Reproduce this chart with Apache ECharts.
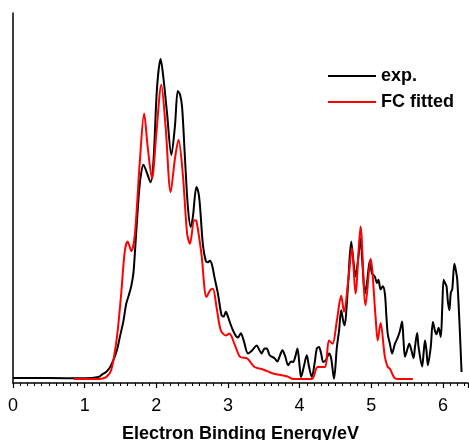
<!DOCTYPE html>
<html>
<head>
<meta charset="utf-8">
<script src="https://cdn.jsdelivr.net/npm/echarts@6/dist/echarts.min.js"></script>
<style>
  html, body { margin: 0; padding: 0; background: #fff; }
  #main { width: 469px; height: 440px; }
</style>
</head>
<body>
<div id="main"></div>
<script>
// experimental spectrum (eV, intensity with main peak = 100)
var expX = [0, 0.5, 1.0, 1.19, 1.25, 1.30, 1.35, 1.40, 1.45, 1.49, 1.54, 1.58, 1.62, 1.65, 1.68, 1.70, 1.75, 1.78, 1.82, 1.86, 1.92, 1.96, 2.01, 2.06, 2.10, 2.15, 2.21, 2.26, 2.30, 2.33, 2.36, 2.40, 2.44, 2.48, 2.51, 2.56, 2.59, 2.61, 2.65, 2.69, 2.72, 2.75, 2.78, 2.81, 2.86, 2.91, 2.94, 2.97, 3.00, 3.03, 3.07, 3.11, 3.14, 3.18, 3.22, 3.28, 3.34, 3.40, 3.44, 3.47, 3.51, 3.54, 3.58, 3.61, 3.65, 3.69, 3.72, 3.76, 3.80, 3.84, 3.88, 3.91, 3.94, 3.97, 4.00, 4.02, 4.06, 4.10, 4.13, 4.17, 4.21, 4.24, 4.27, 4.30, 4.33, 4.37, 4.41, 4.44, 4.48, 4.52, 4.55, 4.58, 4.61, 4.63, 4.66, 4.68, 4.72, 4.75, 4.78, 4.82, 4.85, 4.88, 4.91, 4.94, 4.98, 5.01, 5.05, 5.08, 5.10, 5.13, 5.16, 5.19, 5.21, 5.23, 5.26, 5.29, 5.33, 5.37, 5.40, 5.43, 5.45, 5.47, 5.50, 5.53, 5.56, 5.59, 5.61, 5.64, 5.66, 5.71, 5.73, 5.75, 5.77, 5.79, 5.83, 5.86, 5.89, 5.91, 5.94, 5.97, 5.99, 6.01, 6.03, 6.05, 6.07, 6.09, 6.11, 6.13, 6.16, 6.18, 6.20, 6.23, 6.26];
var expY = [0.3, 0.3, 0.2, 0.6, 1.5, 2.2, 3.5, 5.8, 9, 13, 18, 23.5, 26.5, 29, 33, 39, 56, 63, 67, 65, 61.5, 68, 91, 100, 94, 83, 70, 79, 90, 89, 85, 69, 54, 47.5, 50.6, 60, 58, 54, 42, 37, 36.5, 37, 35.5, 32, 26.7, 20, 19.5, 21, 19.5, 17.5, 15.2, 13.5, 13, 14.3, 12, 8, 9, 10.5, 9, 8, 9.5, 9.5, 7.5, 7, 6.5, 5.5, 7, 9, 7, 4.3, 5.5, 5.3, 7, 9.5, 4, 0.6, 4, 7.4, 4, 0.6, 5, 9.5, 10, 8, 5.3, 6, 8, 6.5, 0.1, 10, 15, 21.5, 18, 16.8, 24, 31, 43, 37, 32, 38, 44, 35, 26.7, 30, 37, 33, 32, 30, 31, 28, 29, 26.7, 20, 14, 11, 8, 11, 13, 15, 18, 12, 7, 9, 11, 9, 6.5, 10, 14.4, 10, 3.9, 8, 12, 9, 4.3, 10, 17.8, 15, 14, 16, 13.2, 22, 31, 30, 29, 24, 21.5, 27, 28, 36, 34, 31, 18, 2.2];

// Franck-Condon fitted spectrum
var fcX = [0.85, 1.20, 1.30, 1.37, 1.45, 1.51, 1.56, 1.60, 1.65, 1.70, 1.77, 1.83, 1.88, 1.94, 2.00, 2.07, 2.13, 2.20, 2.26, 2.31, 2.37, 2.43, 2.47, 2.53, 2.56, 2.63, 2.70, 2.75, 2.79, 2.84, 2.90, 2.97, 3.02, 3.09, 3.17, 3.27, 3.37, 3.50, 3.63, 3.83, 3.91, 4.17, 4.25, 4.35, 4.41, 4.46, 4.52, 4.58, 4.62, 4.68, 4.73, 4.78, 4.85, 4.92, 4.99, 5.06, 5.09, 5.13, 5.19, 5.23, 5.26, 5.32, 5.37, 5.58];
var fcY = [0, 0, 0.6, 2.7, 13, 26.7, 40, 43, 40, 45, 68, 83, 72.5, 62.6, 76.7, 92, 78.8, 58.4, 68.9, 74.8, 64, 45.4, 42.3, 49.6, 49.4, 39, 25.6, 27.7, 28.2, 22.5, 15.2, 13.6, 14.2, 11, 6.9, 6.4, 3.75, 2.9, 1.7, 0.8, 0, 0, 3.75, 3.75, 12, 11, 18.3, 26, 21, 31, 41, 26.7, 47.7, 23, 37.6, 19.4, 12, 17.5, 6.9, 3.75, 3.2, 0.4, 0, 0];

var seriesNames = ['exp.', 'FC fitted'];
var xTicks = ['0', '1', '2', '3', '4', '5', '6'];

function pairs(xs, ys) {
  return xs.map(function (x, i) { return [x, ys[i]]; });
}

var myChart = echarts.init(document.getElementById('main'));
myChart.setOption({
  animation: false,
  textStyle: { fontFamily: 'Liberation Sans' },
  grid: { left: 13, right: 1, top: 13, bottom: 57, containLabel: false, outerBoundsMode: 'none' },
  legend: {
    orient: 'vertical',
    left: 323,
    top: 62,
    icon: 'rect',
    itemWidth: 48,
    itemHeight: 2,
    itemGap: 8,
    textStyle: { fontSize: 18, fontWeight: 'bold', color: '#000', fontFamily: 'Liberation Sans' },
    data: seriesNames
  },
  xAxis: {
    type: 'value',
    min: 0,
    max: 6.35,
    interval: 1,
    name: 'Electron Binding Energy/eV',
    nameLocation: 'middle',
    nameGap: 42,
    nameTextStyle: { fontSize: 18, fontWeight: 'bold', color: '#000' },
    axisLine: { onZero: false, lineStyle: { color: '#000', width: 1.5 } },
    axisTick: { length: 5, lineStyle: { color: '#000', width: 1.2 } },
    minorTick: { show: true, splitNumber: 10, length: 3, lineStyle: { color: '#000', width: 1 } },
    splitLine: { show: false },
    axisLabel: {
      fontSize: 18,
      color: '#000',
      margin: 14,
      showMaxLabel: false,
      formatter: function (v) {
        var k = Math.round(v);
        return Math.abs(v - k) < 1e-6 && xTicks[k] !== undefined ? xTicks[k] : '';
      }
    }
  },
  yAxis: {
    type: 'value',
    min: -1.25,
    max: 114.4,
    axisLine: { show: true, onZero: false, lineStyle: { color: '#000', width: 1.5 } },
    axisTick: { show: false },
    axisLabel: { show: false },
    splitLine: { show: false }
  },
  series: [{
    name: seriesNames[0],
    type: 'line',
    data: pairs(expX, expY),
    showSymbol: false,
    smooth: 0.3,
    lineStyle: { color: '#000', width: 2 },
    itemStyle: { color: '#000' },
    z: 2
  }, {
    name: seriesNames[1],
    type: 'line',
    data: pairs(fcX, fcY),
    showSymbol: false,
    smooth: 0.3,
    lineStyle: { color: '#ff0000', width: 2 },
    itemStyle: { color: '#ff0000' },
    z: 3
  }]
});
</script>
</body>
</html>
